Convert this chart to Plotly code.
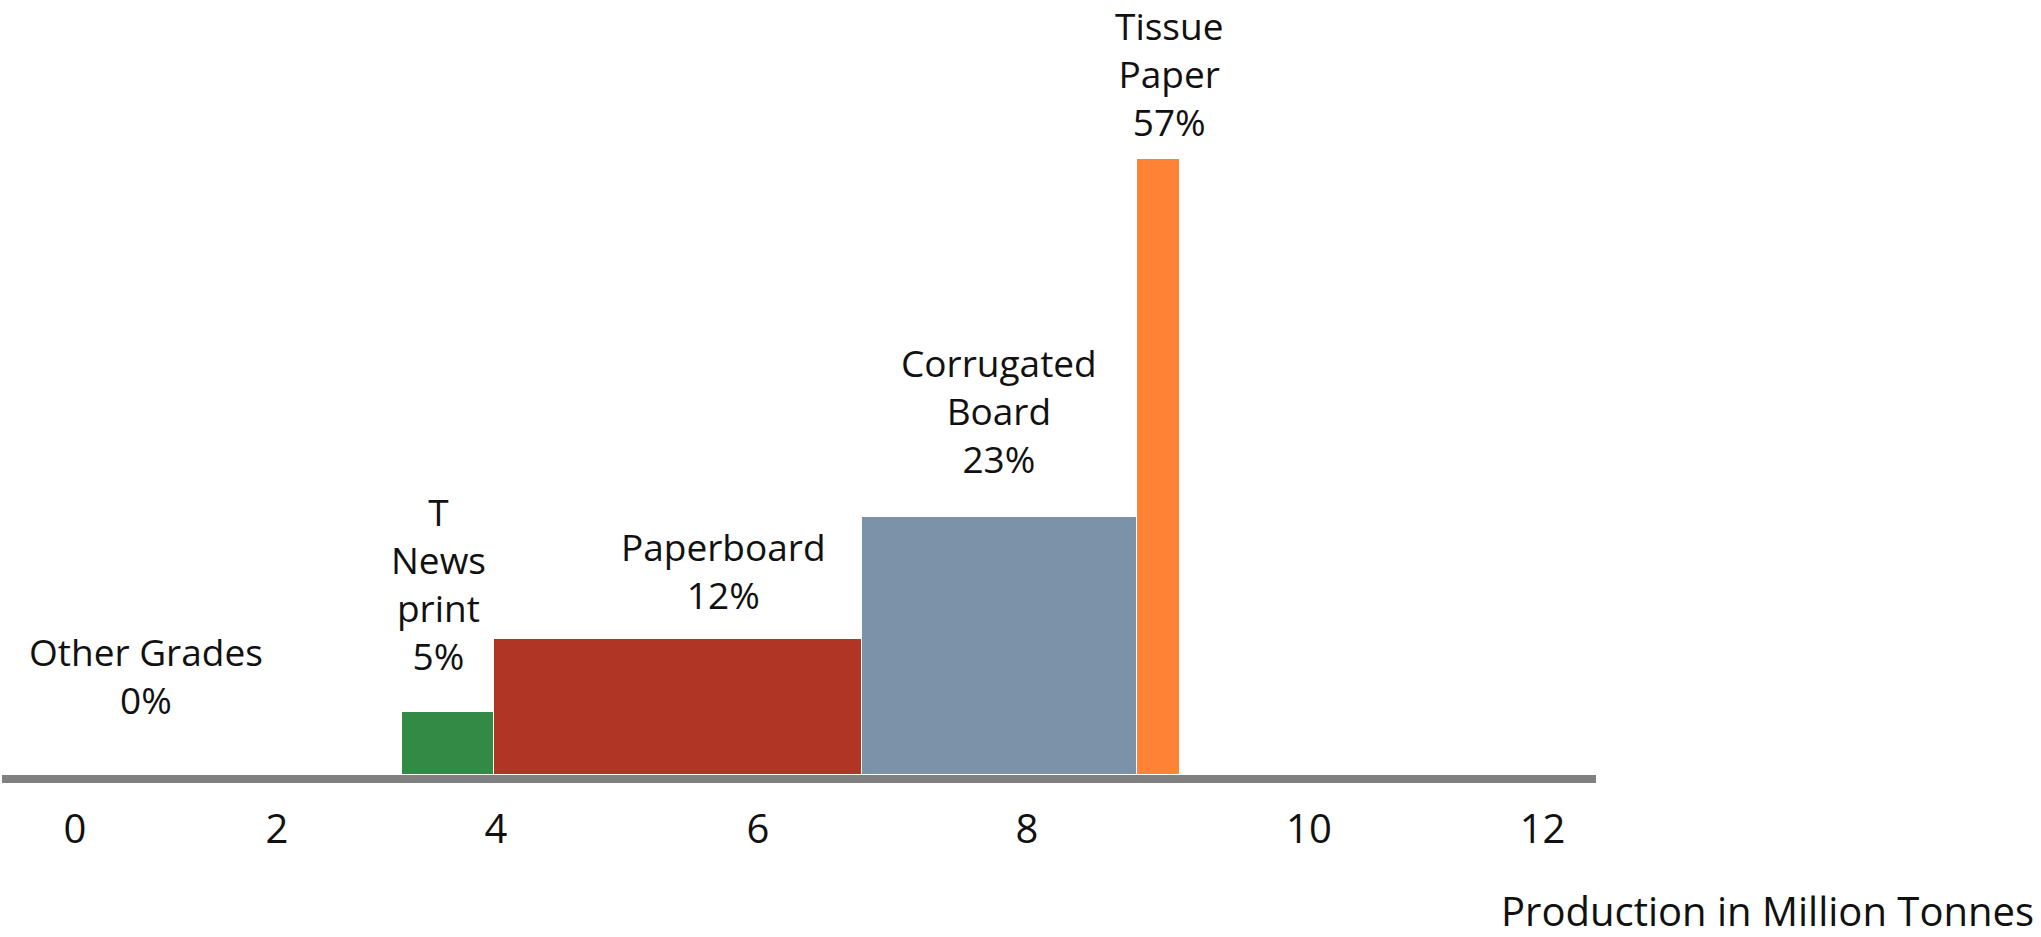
import numpy as np
import plotly.graph_objects as go

# ---- data ----
categories = ["Other Grades", "Newsprint", "Paperboard", "Corrugated Board", "Tissue Paper"]
label_texts = ["Other Grades", "T<br>News<br>print", "Paperboard", "Corrugated<br>Board", "Tissue<br>Paper"]
share_pct = [0, 5, 12, 23, 57]
bar_heights = [0.0, 5.83, 12.58, 23.87, 57.0]
bar_widths = [2.672, 0.756, 3.006, 2.249, 0.352]
bar_colors = ["rgba(0,0,0,0)", "#338A45", "#B03524", "#7B92A8", "#FF8235"]
tick_labels = ["0", "2", "4", "6", "8", "10", "12"]
tick_positions = [0.0, 1.652, 3.442, 5.585, 7.784, 10.09, 12.0]

# label placement (style, in pixels)
label_xshift = [-92, -10, 45, 0, 11]
label_yshift = [100, 128, 69, 106, 85]

FONT = "Open Sans"

lefts = np.concatenate([[0.0], np.cumsum(bar_widths)[:-1]])
centers = lefts + np.array(bar_widths) / 2

fig = go.Figure()
fig.add_trace(go.Bar(
    x=centers, y=bar_heights, width=bar_widths,
    marker=dict(color=bar_colors, line=dict(color="white", width=1)),
    hoverinfo="skip", showlegend=False,
))

for i, cat in enumerate(categories):
    fig.add_annotation(
        x=centers[i], y=bar_heights[i], xref="x", yref="y",
        text=f"{label_texts[i]}<br>{share_pct[i]}%",
        showarrow=False, xanchor="center", yanchor="middle",
        xshift=label_xshift[i], yshift=label_yshift[i],
        font=dict(family=FONT, size=37, color="#111111"), align="center",
    )

fig.add_annotation(
    x=1.276, y=-0.175, xref="paper", yref="paper",
    text="Production in Million Tonnes", showarrow=False,
    xanchor="right", yanchor="middle",
    font=dict(family=FONT, size=40, color="#111111"),
)

fig.update_layout(
    width=2041, height=937, autosize=False,
    margin=dict(l=2, r=445, t=0, b=162, pad=0),
    plot_bgcolor="white", paper_bgcolor="white",
    bargap=0,
    xaxis=dict(
        range=[-0.597, 12.437], showgrid=False, zeroline=False,
        showline=True, linecolor="#808080", linewidth=8, layer="above traces",
        tickmode="array", tickvals=tick_positions, ticktext=tick_labels,
        ticks="", ticklabelstandoff=12,
        tickfont=dict(family=FONT, size=40, color="#111111"),
    ),
    yaxis=dict(range=[0, 71.7], visible=False, showgrid=False, zeroline=False),
)

fig.write_html("out.html", config={"displayModeBar": False},
               post_script="document.body.style.margin='0px';")
